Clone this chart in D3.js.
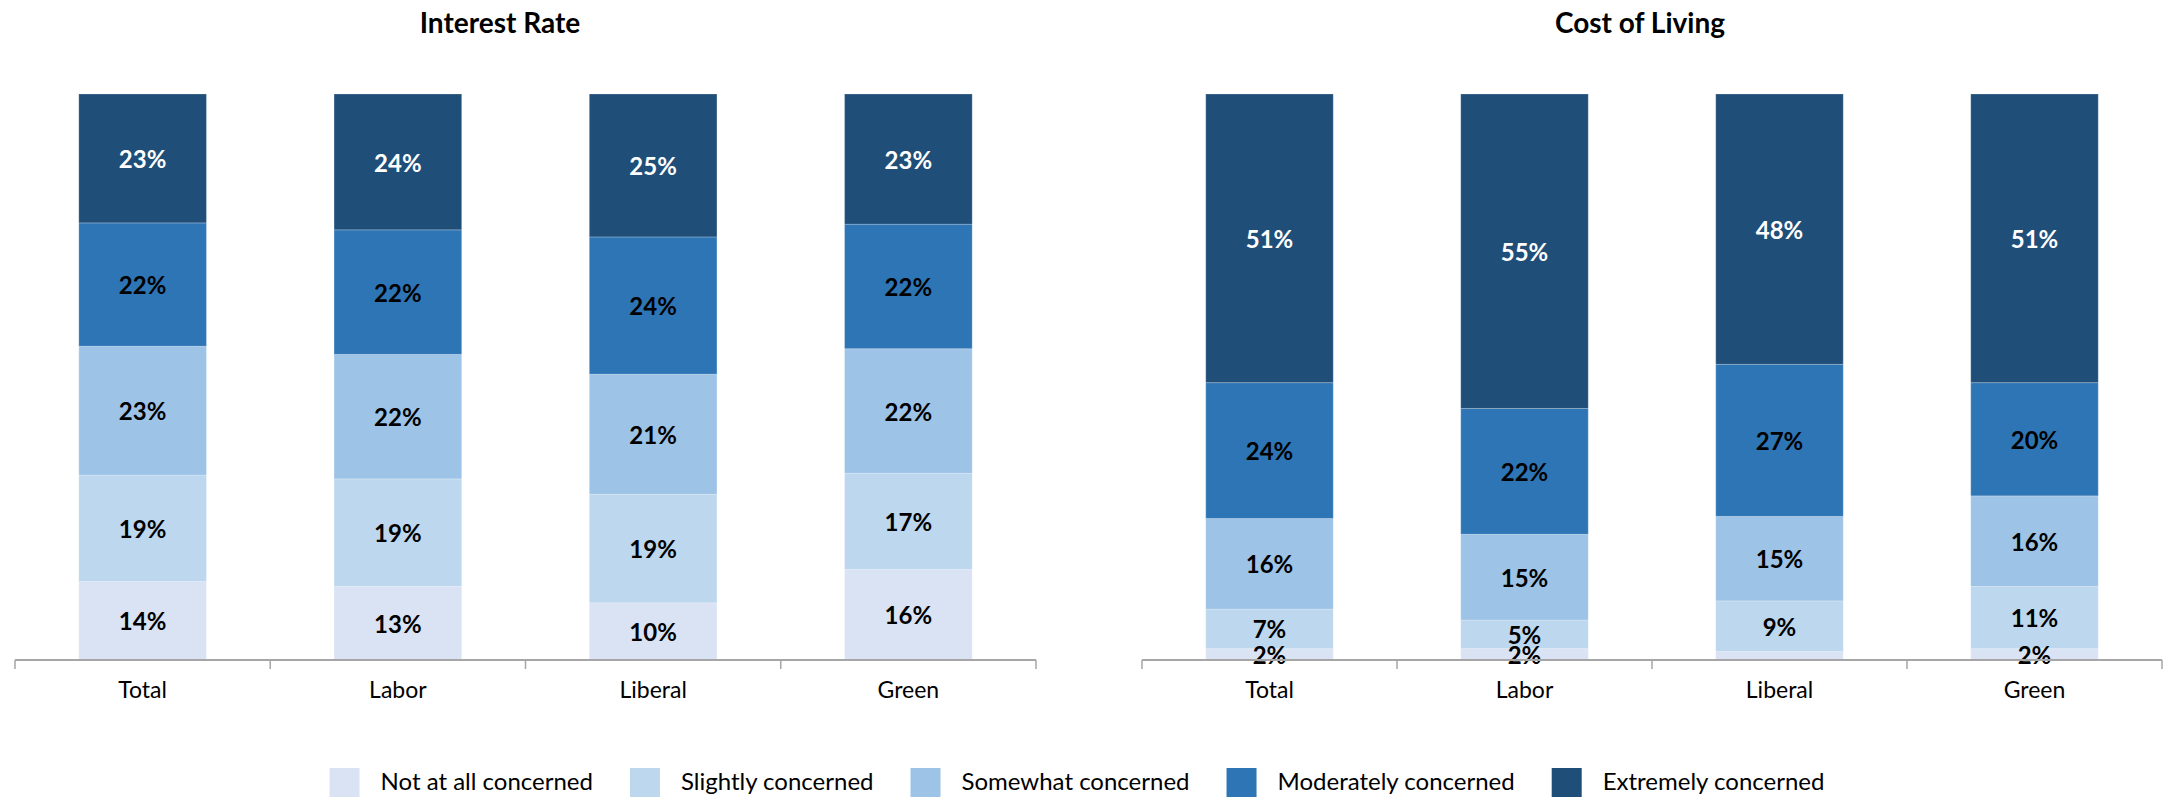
<!DOCTYPE html>
<html>
<head>
<meta charset="utf-8">
<script src="https://cdn.jsdelivr.net/npm/d3@7"></script>
<style>
  body { margin: 0; background: #fff; }
  svg { display: block; }
  text { font-family: Lato, "Open Sans", "DejaVu Sans", sans-serif; }
</style>
</head>
<body>
<svg id="chart" width="2165" height="797"></svg>
<script>
// Parties shown on each panel
const categories = ["Total", "Labor", "Liberal", "Green"];

// Concern levels, bottom to top of each stack
const seriesNames = ["Not at all concerned", "Slightly concerned", "Somewhat concerned", "Moderately concerned", "Extremely concerned"];
const seriesColors = ["#DAE3F3", "#BDD7EE", "#9DC3E6", "#2E75B6", "#1F4E79"];
const labelColors = ["#000000", "#000000", "#000000", "#000000", "#FFFFFF"];

// Interest Rate (% of respondents per party)
const rateNotAtAll   = [14, 13, 10, 16];
const rateSlightly   = [19, 19, 19, 17];
const rateSomewhat   = [23, 22, 21, 22];
const rateModerately = [22, 22, 24, 22];
const rateExtremely  = [23, 24, 25, 23];

// Cost of Living (% of respondents per party)
const costNotAtAll   = [2, 2, 1.5, 2];
const costSlightly   = [7, 5, 9, 11];
const costSomewhat   = [16, 15, 15, 16];
const costModerately = [24, 22, 27, 20];
const costExtremely  = [51, 55, 48, 51];

// Segments smaller than this carry no data label
const minLabelValue = 2;

const W = 2165, H = 797;
const axisY = 660, plotTop = 94;

const panels = [
  { title: "Interest Rate", left: 15, right: 1036, titleX: 500,
    series: [rateNotAtAll, rateSlightly, rateSomewhat, rateModerately, rateExtremely] },
  { title: "Cost of Living", left: 1142, right: 2162, titleX: 1640,
    series: [costNotAtAll, costSlightly, costSomewhat, costModerately, costExtremely] }
];

const svg = d3.select("#chart");

const y = d3.scaleLinear().domain([0, 1]).range([axisY, plotTop]);

panels.forEach(panel => {
  const g = svg.append("g");

  const x = d3.scaleBand()
    .domain(categories)
    .range([panel.left, panel.right])
    .paddingInner(0.5)
    .paddingOuter(0.25);

  // rows keyed by series name, one per party
  const rows = categories.map((c, i) => {
    const row = { category: c };
    seriesNames.forEach((s, k) => { row[s] = panel.series[k][i]; });
    return row;
  });

  const stacked = d3.stack()
    .keys(seriesNames)
    .offset(d3.stackOffsetExpand)(rows);

  // title
  g.append("text")
    .attr("x", panel.titleX)
    .attr("y", 33)
    .attr("text-anchor", "middle")
    .attr("font-size", 28)
    .attr("font-weight", 700)
    .attr("fill", "#000")
    .text(panel.title);

  // stacked segments
  const layers = g.selectAll("g.layer")
    .data(stacked)
    .join("g")
    .attr("class", "layer")
    .attr("fill", (d, i) => seriesColors[i]);

  layers.selectAll("rect")
    .data(d => d)
    .join("rect")
    .attr("x", d => x(d.data.category))
    .attr("width", x.bandwidth())
    .attr("y", d => y(d[1]))
    .attr("height", d => y(d[0]) - y(d[1]))
    .attr("stroke", "rgba(255,255,255,0.22)")
    .attr("stroke-width", 1);

  // data labels
  stacked.forEach((layer, k) => {
    g.append("g").selectAll("text")
      .data(layer.filter(d => d.data[layer.key] >= minLabelValue))
      .join("text")
      .attr("x", d => x(d.data.category) + x.bandwidth() / 2)
      .attr("y", d => (y(d[0]) + y(d[1])) / 2)
      .attr("dy", "0.4em")
      .attr("text-anchor", "middle")
      .attr("font-size", 24)
      .attr("font-weight", 700)
      .attr("fill", labelColors[k])
      .text(d => d.data[layer.key] + "%");
  });

  // category axis: labels centred under bars
  const axis = g.append("g")
    .attr("transform", `translate(0,${axisY})`)
    .call(d3.axisBottom(x).tickSize(0).tickPadding(22));
  axis.select(".domain").remove();
  axis.selectAll("text")
    .attr("font-size", 23)
    .attr("font-family", "Lato, 'Open Sans', sans-serif")
    .attr("fill", "#000");

  // baseline with separators between categories
  g.append("line")
    .attr("x1", panel.left).attr("x2", panel.right)
    .attr("y1", axisY).attr("y2", axisY)
    .attr("stroke", "#A6A6A6").attr("stroke-width", 2);

  const edges = categories.map(c => x(c) - (x.step() - x.bandwidth()) / 2);
  edges.push(panel.right);
  g.append("g").selectAll("line")
    .data(edges)
    .join("line")
    .attr("x1", d => d).attr("x2", d => d)
    .attr("y1", axisY).attr("y2", axisY + 9)
    .attr("stroke", "#A6A6A6").attr("stroke-width", 1.5);
});

// legend, laid out left to right and centred on the page
const legend = svg.append("g");
const swatch = 30, textGap = 21, itemGap = 37;
const items = legend.selectAll("g")
  .data(seriesNames)
  .join("g");
items.append("rect")
  .attr("y", 768)
  .attr("width", swatch)
  .attr("height", swatch)
  .attr("fill", (d, i) => seriesColors[i]);
items.append("text")
  .attr("x", swatch + textGap)
  .attr("y", 790)
  .attr("font-size", 24)
  .attr("fill", "#000")
  .text(d => d);

let cursor = 0;
items.each(function () {
  const item = d3.select(this);
  item.attr("transform", `translate(${cursor},0)`);
  const tw = item.select("text").node().getComputedTextLength();
  cursor += swatch + textGap + tw + itemGap;
});
const legendWidth = cursor - itemGap;
legend.attr("transform", `translate(${1077 - legendWidth / 2},0)`);
</script>
</body>
</html>
